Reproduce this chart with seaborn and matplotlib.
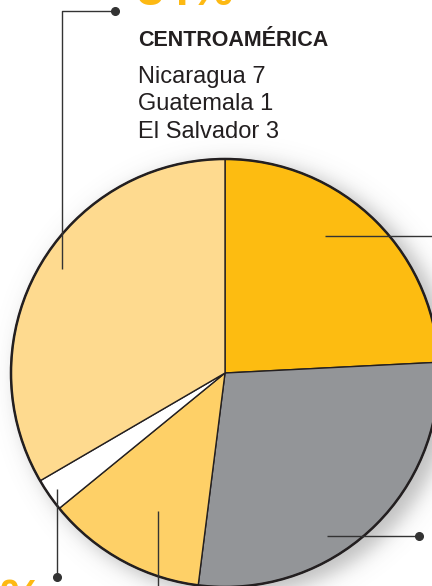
import numpy as np
import matplotlib
matplotlib.use("Agg")
import matplotlib.pyplot as plt
from matplotlib.patches import Circle
import seaborn as sns

# shares of each slice, clockwise from 12 o'clock
regions = ["A", "B", "C", "D", "Centroamérica"]
shares = [24.2, 27.8, 12.1, 2.5, 33.4]
slice_colors = ["#FDBC11", "#939598", "#FED067", "#FFFFFF", "#FEDA8F"]

# text shown on the chart
big_top = "34%"
big_bottom = "3%"
group_title = "CENTROAMÉRICA"
group_lines = ["Nicaragua 7", "Guatemala 1", "El Salvador 3"]

sns.set_theme(style="white")
plt.rcParams["font.family"] = ["Liberation Sans Narrow", "Liberation Sans", "DejaVu Sans"]

W, H = 432, 586
fig = plt.figure(figsize=(W / 100, H / 100), dpi=100)
ax = fig.add_axes([0, 0, 1, 1])

cx, cy, r = 225, H - 373, 214

# soft drop shadow behind the pie
xx, yy = np.meshgrid(np.arange(W) + 0.5, np.arange(H) + 0.5)
d = np.hypot(xx - (cx + 10), (H - yy) - (cy - 6))
a = 0.40 / (1 + np.exp((d - r - 3) / 6.0))
shadow = np.zeros((H, W, 4))
shadow[..., :3] = 0.38
shadow[..., 3] = a
ax.imshow(shadow, extent=(0, W, 0, H), origin="upper", zorder=0, interpolation="bilinear")

ink = "#231F20"
ax.pie(shares, colors=slice_colors, startangle=90, counterclock=False,
       center=(cx, cy), radius=r,
       wedgeprops=dict(edgecolor=ink, linewidth=1.0, zorder=2))
ax.add_patch(Circle((cx, cy), r, fill=False, ec=ink, lw=1.8, zorder=3))

# leader lines
lc = "#333333"
def leader(xs, ys, dot=True):
    ax.plot(xs, [H - y for y in ys], color=lc, lw=1.0, zorder=4, solid_capstyle="butt")
    if dot:
        ax.plot(xs[-1], H - ys[-1], "o", color=lc, ms=5.5, zorder=4)

leader([62, 62, 115], [269, 11, 11])
leader([325, 440], [236, 236], dot=False)
leader([327, 419], [536, 536])
leader([57, 57], [489, 577])
leader([158, 158], [511, 600], dot=False)

# labels
orange = "#FDB913"
ax.text(137, H - 5, big_top, color=orange, fontsize=35, fontweight="bold",
        ha="left", va="baseline", zorder=5)
ax.text(44, H - 613, big_bottom, color=orange, fontsize=35, fontweight="bold",
        ha="right", va="baseline", zorder=5, clip_on=False)
ax.text(138, H - 46, group_title, color=ink, fontsize=15.5, fontweight="bold",
        ha="left", va="baseline", zorder=5)
for i, line in enumerate(group_lines):
    ax.text(138, H - (83 + 27.5 * i), line, color=ink, fontsize=17,
            ha="left", va="baseline", zorder=5)

ax.set_xlim(0, W)
ax.set_ylim(0, H)
ax.set_aspect("auto")
ax.axis("off")

fig.savefig("out.png", dpi=100, facecolor="white")
